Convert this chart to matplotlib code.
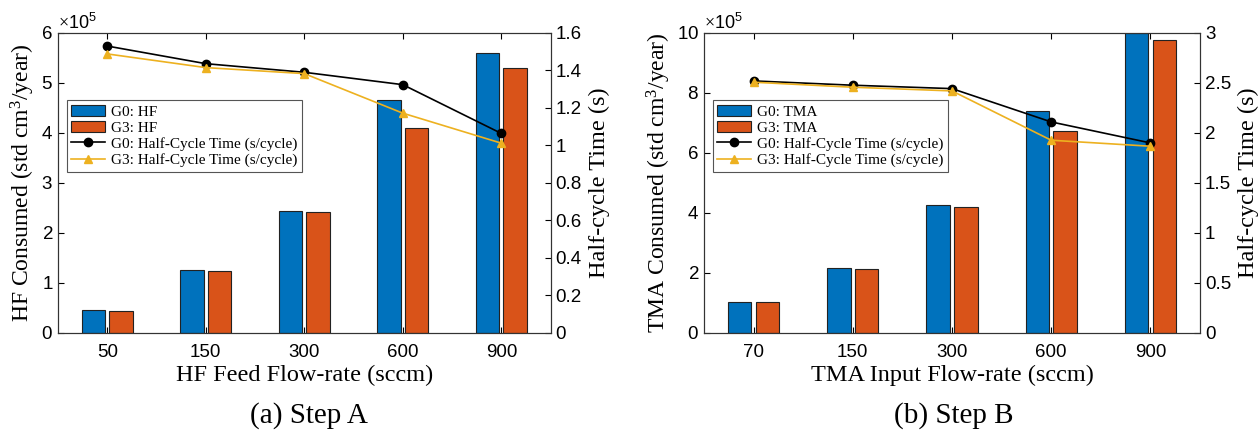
import matplotlib.pyplot as plt
import numpy as np
from matplotlib.ticker import ScalarFormatter

# Step A (HF)
hf_flow = ['50', '150', '300', '600', '900']
hf_g0 = [0.45e5, 1.26e5, 2.43e5, 4.65e5, 5.60e5]
hf_g3 = [0.44e5, 1.24e5, 2.42e5, 4.10e5, 5.30e5]
hf_t_g0 = [1.53, 1.436, 1.39, 1.324, 1.064]
hf_t_g3 = [1.488, 1.415, 1.383, 1.172, 1.012]

# Step B (TMA)
tma_flow = ['70', '150', '300', '600', '900']
tma_g0 = [1.03e5, 2.17e5, 4.27e5, 7.40e5, 10.0e5]
tma_g3 = [1.02e5, 2.14e5, 4.21e5, 6.73e5, 9.76e5]
tma_t_g0 = [2.52, 2.477, 2.443, 2.11, 1.90]
tma_t_g3 = [2.507, 2.457, 2.42, 1.927, 1.867]

blue = '#0072BD'
orange = '#D95319'
yellow = '#EDB120'
serif = ['Liberation Serif', 'DejaVu Serif']
sans = ['Liberation Sans', 'DejaVu Sans']

plt.rcParams['font.family'] = sans
plt.rcParams['mathtext.fontset'] = 'custom'
plt.rcParams['mathtext.rm'] = 'Liberation Serif'
plt.rcParams['mathtext.it'] = 'Liberation Serif:italic'

fig = plt.figure(figsize=(12.6, 4.33), dpi=100)


def panel(rect, cats, b0, b3, t0, t3, name, ylim, yticks, ylim2, yticks2, xlabel, ylabel, caption, capx):
    ax = fig.add_axes(rect)
    x = np.arange(1, len(cats) + 1)
    w = 0.237
    ax.bar(x - 0.14, b0, w, color=blue, edgecolor='#222222', linewidth=0.8, label='G0: ' + name)
    ax.bar(x + 0.14, b3, w, color=orange, edgecolor='#222222', linewidth=0.8, label='G3: ' + name)
    ax.set_xlim(0.5, len(cats) + 0.5)
    ax.set_ylim(*ylim)
    ax.set_yticks(yticks)
    ax.set_xticks(x)
    ax.set_xticklabels(cats)
    fmt = ScalarFormatter(useMathText=True)
    fmt.set_powerlimits((5, 5))
    ax.yaxis.set_major_formatter(fmt)
    ax.yaxis.get_offset_text().set_fontsize(13)
    ax.tick_params(direction='in', labelsize=13.5, top=True, length=4)
    ax.tick_params(axis='x', pad=8)
    ax.set_xlabel(xlabel, fontsize=17.5, family=serif, labelpad=3)
    ax.set_ylabel(ylabel, fontsize=17, family=serif, labelpad=3)

    ax2 = ax.twinx()
    ax2.plot(x, t0, '-o', color='black', markersize=6, linewidth=1.2, label='G0: Half-Cycle Time (s/cycle)')
    ax2.plot(x, t3, '-^', color=yellow, markersize=6, linewidth=1.2, label='G3: Half-Cycle Time (s/cycle)')
    ax2.set_ylim(*ylim2)
    ax2.set_yticks(yticks2)
    ax2.set_yticklabels([('%g' % v) for v in yticks2])
    ax2.tick_params(direction='in', labelsize=13.5, length=4)
    ax2.set_ylabel('Half-cycle Time (s)', fontsize=17.5, family=serif, labelpad=5)
    for a in (ax, ax2):
        for s in a.spines.values():
            s.set_linewidth(0.8)
            s.set_color('#333333')

    h1, l1 = ax.get_legend_handles_labels()
    h2, l2 = ax2.get_legend_handles_labels()
    leg = ax2.legend(h1 + h2, l1 + l2, loc='upper left', bbox_to_anchor=(0.018, 0.775),
                     prop={'family': serif, 'size': 11}, fancybox=False, framealpha=1,
                     edgecolor='#555555', borderpad=0.3, labelspacing=0.15,
                     handlelength=2.2, handletextpad=0.4, borderaxespad=0)
    leg.get_frame().set_linewidth(0.8)
    fig.text(capx, 0.025, caption, fontsize=21, family=serif, ha='center')
    return ax


panel([0.046, 0.231, 0.391, 0.693], hf_flow, hf_g0, hf_g3, hf_t_g0, hf_t_g3, 'HF',
      (0, 6e5), np.arange(0, 7e5, 1e5), (0, 1.6), [0, 0.2, 0.4, 0.6, 0.8, 1, 1.2, 1.4, 1.6],
      'HF Feed Flow-rate (sccm)', 'HF Consumed (std cm$^3$/year)', '(a) Step A', 0.245)

panel([0.5587, 0.231, 0.3937, 0.693], tma_flow, tma_g0, tma_g3, tma_t_g0, tma_t_g3, 'TMA',
      (0, 10e5), np.arange(0, 11e5, 2e5), (0, 3), [0, 0.5, 1, 1.5, 2, 2.5, 3],
      'TMA Input Flow-rate (sccm)', 'TMA Consumed (std cm$^3$/year)', '(b) Step B', 0.757)

fig.savefig('out.png', dpi=100)
